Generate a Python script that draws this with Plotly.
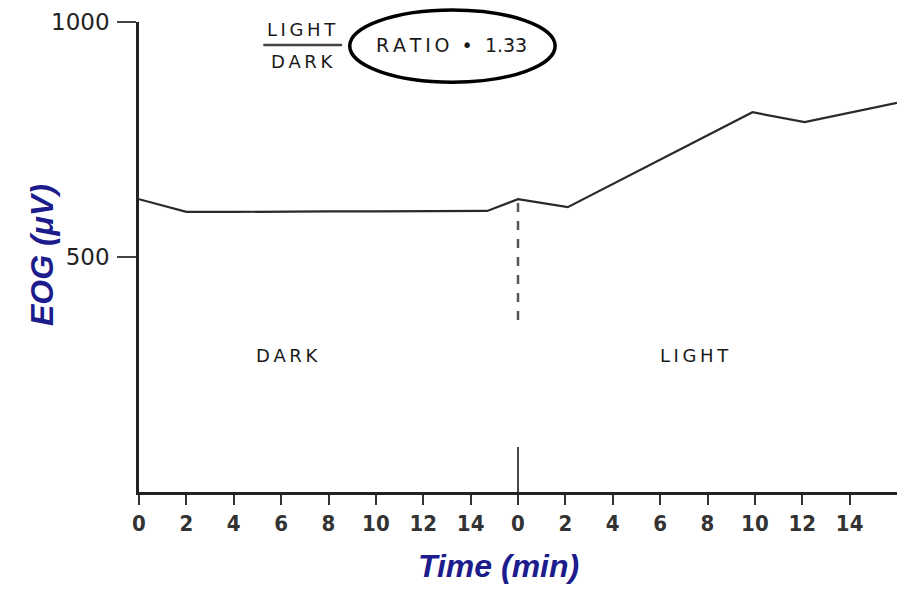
import plotly.graph_objects as go

# Data (time on a continuous scale: 0-16 dark phase, 16-32 light phase)
time_min = [0, 2, 4, 6, 8, 10, 12, 14, 14.7, 16, 18.1, 25.9, 28.1, 32]
eog_uv = [623, 596, 596, 597, 597, 597, 598, 598, 598, 623, 606, 808, 787, 828]

x_tickvals = [0, 2, 4, 6, 8, 10, 12, 14, 16, 18, 20, 22, 24, 26, 28, 30]
x_ticktext = ["0", "2", "4", "6", "8", "10", "12", "14", "0", "2", "4", "6", "8", "10", "12", "14"]
y_tickvals = [500, 1000]
y_ticktext = ["500", "1000"]

phase_switch = 16
dashed_span = [366, 620]
solid_span = [0, 96]

fig = go.Figure()
fig.add_trace(go.Scatter(x=time_min, y=eog_uv, mode="lines",
                         line=dict(color="#2a2a2a", width=2.2), showlegend=False))
fig.add_trace(go.Scatter(x=[phase_switch, phase_switch], y=dashed_span, mode="lines",
                         line=dict(color="#555", width=2.5, dash="dash"), showlegend=False))
fig.add_trace(go.Scatter(x=[phase_switch, phase_switch], y=solid_span, mode="lines",
                         line=dict(color="#333", width=1.8), showlegend=False))

fig.update_layout(
    width=910, height=589,
    margin=dict(l=131, r=21, t=14, b=105),
    paper_bgcolor="white", plot_bgcolor="white",
    xaxis=dict(range=[0, 32], tickvals=x_tickvals, ticktext=x_ticktext, automargin=False,
               showgrid=False, zeroline=False, showline=True, linecolor="#222", linewidth=3,
               ticks="outside", ticklen=10, tickwidth=2, tickcolor="#333",
               tickfont=dict(family="DejaVu Sans Condensed, DejaVu Sans", size=22,
                             color="#333", weight="bold")),
    yaxis=dict(range=[0, 1000], tickvals=y_tickvals, ticktext=y_ticktext, automargin=False,
               showgrid=False, zeroline=False, showline=True, linecolor="#222", linewidth=2.5,
               ticks="outside", ticklen=19, tickwidth=2, tickcolor="#444",
               ticklabelstandoff=3,
               tickfont=dict(family="DejaVu Sans", size=23, color="#222")),
)

title_font = dict(family="Liberation Sans", size=32, color="#1c1c8c")
fig.add_annotation(xref="paper", yref="paper", x=-0.128, y=0.504, textangle=-90,
                   text="<b><i>EOG (\u03bcV)</i></b>", showarrow=False, font=title_font,
                   xanchor="center", yanchor="middle")
fig.add_annotation(xref="paper", yref="paper", x=0.474, y=-0.157,
                   text="<b><i>Time (min)</i></b>", showarrow=False, font=title_font,
                   xanchor="center", yanchor="middle")

ts = "\u2009"
ann_font = dict(family="DejaVu Sans", size=18, color="#1a1a1a")
fig.add_annotation(x=6.25, y=291, text=ts.join("DARK"), showarrow=False, font=ann_font,
                   xanchor="center", yanchor="middle")
fig.add_annotation(x=23.46, y=291, text=ts.join("LIGHT"), showarrow=False, font=ann_font,
                   xanchor="center", yanchor="middle")
fig.add_annotation(xref="paper", yref="paper", x=0.215, y=0.983, text=ts.join("LIGHT"),
                   showarrow=False, font=ann_font, xanchor="center", yanchor="middle")
fig.add_annotation(xref="paper", yref="paper", x=0.215, y=0.915, text=ts.join("DARK"),
                   showarrow=False, font=ann_font, xanchor="center", yanchor="middle")
fig.add_annotation(xref="paper", yref="paper", x=0.412, y=0.951, text=ts.join("RATIO") + "  •  1.33",
                   showarrow=False, font=dict(family="DejaVu Sans", size=19, color="#1a1a1a"),
                   xanchor="center", yanchor="middle")
fig.add_shape(type="line", xref="paper", yref="paper", x0=0.164, x1=0.268, y0=0.951, y1=0.951,
              line=dict(color="#444", width=2.5))
fig.add_shape(type="circle", xref="paper", yref="paper", x0=0.278, x1=0.549, y0=0.872, y1=1.0255,
              line=dict(color="black", width=3.5))

fig.write_html("out.html")
